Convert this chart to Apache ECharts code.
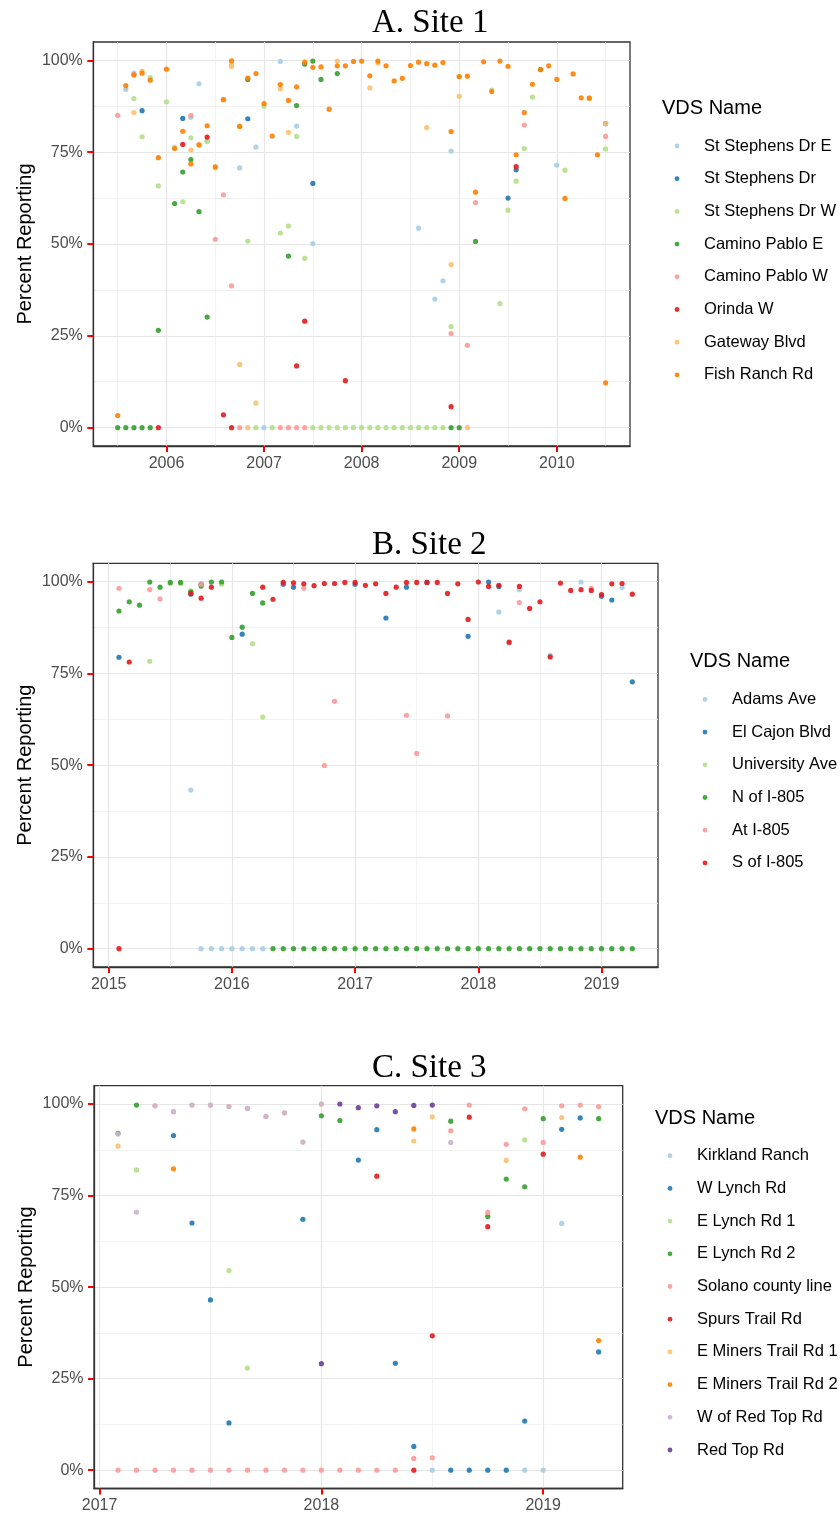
<!DOCTYPE html>
<html><head><meta charset="utf-8">
<script src="https://cdn.jsdelivr.net/npm/echarts@6/dist/echarts.min.js"></script>
<style>html,body{margin:0;padding:0;background:#fff}#c{width:840px;height:1514px}</style>
</head><body><div id="c"></div>
<script>
// ================= DATA =================
// Tick labels
const yTicks = [0, 0.25, 0.5, 0.75, 1];
const yMinor = [0.125, 0.375, 0.625, 0.875];
const xTicksA = [2006, 2007, 2008, 2009, 2010];
const xMinorA = [2005.5, 2006.5, 2007.5, 2008.5, 2009.5, 2010.5];
const xTicksB = [2015, 2016, 2017, 2018, 2019];
const xMinorB = [2015.5, 2016.5, 2017.5, 2018.5];
const xTicksC = [2017, 2018, 2019];
const xMinorC = [2017.5, 2018.5];

// ---- Panel A: Site 1 ----
const namesA = ['St Stephens Dr E', 'St Stephens Dr', 'St Stephens Dr W', 'Camino Pablo E', 'Camino Pablo W', 'Orinda W', 'Gateway Blvd', 'Fish Ranch Rd'];
const a_stStephensDrE = [['2005-08',0.921],['2005-09',0.965],['2006-04',0.845],['2006-05',0.936],['2006-06',0.780],['2006-10',0.707],['2006-12',0.764],['2007-01',0],['2007-03',0.997],['2007-05',0.821],['2007-07',0.501],['2008-08',0.543],['2008-10',0.350],['2008-11',0.400],['2008-12',0.753],['2010-01',0.715]];
const a_stStephensDr = [['2005-10',0.863],['2006-03',0.842],['2006-11',0.841],['2007-07',0.665],['2009-07',0.625],['2009-08',0.702],['2010-07',0.828]];
const a_stStephensDrW = [['2005-09',0.896],['2005-10',0.792],['2005-11',0.953],['2005-12',0.658],['2006-01',0.887],['2006-02',0.763],['2006-03',0.615],['2006-04',0.789],['2006-06',0.780],['2006-07',0.707],['2006-08',0.893],['2006-09',0.989],['2006-10',0.820],['2006-11',0.508],['2006-12',0],['2007-01',0.875],['2007-02',0],['2007-03',0.530],['2007-04',0.549],['2007-05',0.793],['2007-06',0.461],['2007-07',0],['2007-08',0],['2007-09',0],['2007-10',0],['2007-11',0],['2007-12',0],['2008-01',0],['2008-02',0],['2008-03',0],['2008-04',0],['2008-05',0],['2008-06',0],['2008-07',0],['2008-08',0],['2008-09',0],['2008-10',0],['2008-11',0],['2008-12',0.275],['2009-01',0.956],['2009-05',0.919],['2009-06',0.338],['2009-07',0.592],['2009-08',0.671],['2009-09',0.760],['2009-10',0.900],['2010-02',0.701],['2010-05',0.897],['2010-07',0.759]];
const a_caminoPabloE = [['2005-07',0],['2005-08',0],['2005-09',0],['2005-10',0],['2005-11',0],['2005-12',0.265],['2006-02',0.610],['2006-03',0.696],['2006-04',0.730],['2006-05',0.588],['2006-06',0.301],['2006-11',0.948],['2007-04',0.467],['2007-05',0.877],['2007-06',0.990],['2007-07',0.998],['2007-08',0.948],['2007-10',0.964],['2008-12',0],['2009-01',0],['2009-03',0.507],['2009-11',0.975]];
const a_caminoPabloW = [['2005-07',0.850],['2005-09',0.962],['2006-04',0.850],['2006-07',0.513],['2006-08',0.634],['2006-09',0.386],['2006-10',0],['2007-03',0],['2007-04',0],['2007-05',0],['2007-06',0],['2008-12',0.256],['2009-02',0.224],['2009-03',0.613],['2009-09',0.824],['2010-07',0.793]];
const a_orindaW = [['2005-12',0],['2006-03',0.771],['2006-06',0.791],['2006-08',0.035],['2006-09',0],['2007-05',0.168],['2007-06',0.290],['2007-11',0.128],['2008-12',0.057],['2009-08',0.711]];
const a_gatewayBlvd = [['2005-09',0.858],['2005-10',0.970],['2006-04',0.756],['2006-05',0.770],['2006-09',0.983],['2006-10',0.172],['2006-11',0],['2006-12',0.067],['2007-03',0.923],['2007-04',0.804],['2007-10',0.998],['2008-02',0.925],['2008-03',0.993],['2008-09',0.817],['2008-12',0.444],['2009-01',0.902],['2009-02',0],['2010-07',0.828]];
const a_fishRanchRd = [['2005-07',0.033],['2005-08',0.931],['2005-09',0.960],['2005-10',0.965],['2005-11',0.946],['2005-12',0.735],
 ['2006-01',0.976],['2006-02',0.760],['2006-03',0.807],['2006-04',0.718],['2006-05',0.770],['2006-06',0.822],['2006-07',0.710],['2006-08',0.893],['2006-09',0.999],['2006-10',0.820],['2006-11',0.952],['2006-12',0.964],
 ['2007-01',0.882],['2007-02',0.794],['2007-03',0.934],['2007-04',0.891],['2007-05',0.928],['2007-06',0.995],['2007-07',0.981],['2007-08',0.982],['2007-09',0.867],['2007-10',0.985],['2007-11',0.985],['2007-12',0.997],
 ['2008-01',0.998],['2008-02',0.958],['2008-03',0.998],['2008-04',0.985],['2008-05',0.944],['2008-06',0.951],['2008-07',0.986],['2008-08',0.995],['2008-09',0.991],['2008-10',0.987],['2008-11',0.994],['2008-12',0.806],
 ['2009-01',0.956],['2009-02',0.957],['2009-03',0.641],['2009-04',0.996],['2009-05',0.915],['2009-06',0.998],['2009-07',0.984],['2009-08',0.743],['2009-09',0.858],['2009-10',0.935],['2009-11',0.975],['2009-12',0.985],
 ['2010-01',0.948],['2010-02',0.624],['2010-03',0.963],['2010-04',0.898],['2010-05',0.897],['2010-06',0.743],['2010-07',0.122]];

// ---- Panel B: Site 2 ----
const namesB = ['Adams Ave', 'El Cajon Blvd', 'University Ave', 'N of I-805', 'At I-805', 'S of I-805'];
const b_adamsAve = [['2015-09',0.432],['2015-10',0],['2015-11',0],['2015-12',0],['2016-01',0],['2016-02',0],['2016-03',0],['2016-04',0],['2018-03',0.917],['2018-04',0.833],['2018-05',0.978],['2018-08',0.799],['2018-11',0.999],['2019-03',0.984]];
const b_elCajonBlvd = [['2015-02',0.794],['2015-09',0.966],['2015-10',0.993],['2016-02',0.857],['2016-06',0.993],['2016-07',0.985],['2017-01',0.993],['2017-04',0.901],['2017-06',0.985],['2017-08',0.998],['2017-12',0.851],['2018-02',0.999],['2018-03',0.987],['2019-01',0.960],['2019-02',0.950],['2019-04',0.727]];
const b_universityAve = [['2015-05',0.783],['2015-07',0.995],['2015-08',0.995],['2015-09',0.975],['2015-12',0.993],['2016-03',0.831],['2016-04',0.631]];
const b_nOfI805 = [['2015-02',0.920],['2015-03',0.945],['2015-04',0.936],['2015-05',0.999],['2015-06',0.985],['2015-07',0.998],['2015-08',0.998],['2015-09',0.972],['2015-10',0.988],['2015-11',0.999],['2015-12',0.999],['2016-01',0.848],['2016-02',0.876],['2016-03',0.968],['2016-04',0.942],
 ['2016-05',0],['2016-06',0],['2016-07',0],['2016-08',0],['2016-09',0],['2016-10',0],['2016-11',0],['2016-12',0],
 ['2017-01',0],['2017-02',0],['2017-03',0],['2017-04',0],['2017-05',0],['2017-06',0],['2017-07',0],['2017-08',0],['2017-09',0],['2017-10',0],['2017-11',0],['2017-12',0],
 ['2018-01',0],['2018-02',0],['2018-03',0],['2018-04',0],['2018-05',0],['2018-06',0],['2018-07',0],['2018-08',0],['2018-09',0],['2018-10',0],['2018-11',0],['2018-12',0],
 ['2019-01',0],['2019-02',0],['2019-03',0],['2019-04',0]];
const b_atI805 = [['2015-02',0.982],['2015-05',0.978],['2015-06',0.953],['2015-10',0.993],['2016-08',0.982],['2016-10',0.499],['2016-11',0.674],['2017-06',0.636],['2017-07',0.532],['2017-10',0.634],['2018-05',0.943],['2018-12',0.982]];
const b_sOfI805 = [['2015-02',0],['2015-03',0.781],['2015-09',0.968],['2015-10',0.955],['2015-11',0.985],['2016-04',0.985],['2016-05',0.952],['2016-06',0.998],['2016-07',0.997],['2016-08',0.994],['2016-09',0.989],['2016-10',0.995],['2016-11',0.995],['2016-12',0.998],
 ['2017-01',0.998],['2017-02',0.990],['2017-03',0.994],['2017-04',0.968],['2017-05',0.985],['2017-06',0.998],['2017-07',0.998],['2017-08',0.998],['2017-09',0.998],['2017-10',0.968],['2017-11',0.994],['2017-12',0.897],
 ['2018-01',0.999],['2018-02',0.987],['2018-03',0.990],['2018-04',0.835],['2018-05',0.987],['2018-06',0.927],['2018-07',0.945],['2018-08',0.795],['2018-09',0.996],['2018-10',0.976],['2018-11',0.978],['2018-12',0.976],
 ['2019-01',0.965],['2019-02',0.994],['2019-03',0.995],['2019-04',0.966]];

// ---- Panel C: Site 3 ----
const namesC = ['Kirkland Ranch', 'W Lynch Rd', 'E Lynch Rd 1', 'E Lynch Rd 2', 'Solano county line', 'Spurs Trail Rd', 'E Miners Trail Rd 1', 'E Miners Trail Rd 2', 'W of Red Top Rd', 'Red Top Rd'];
const c_kirklandRanch = [['2018-07',0],['2018-12',0],['2019-01',0],['2019-02',0.674]];
const c_wLynchRd = [['2017-05',0.914],['2017-06',0.675],['2017-07',0.465],['2017-08',0.129],['2017-12',0.685],['2018-03',0.847],['2018-04',0.930],['2018-05',0.292],['2018-06',0.065],['2018-08',0],['2018-09',0],['2018-10',0],['2018-11',0],['2018-12',0.134],['2019-02',0.931],['2019-03',0.962],['2019-04',0.323]];
const c_eLynchRd1 = [['2017-03',0.820],['2017-08',0.545],['2017-09',0.279],['2018-12',0.902]];
const c_eLynchRd2 = [['2017-02',0.920],['2017-03',0.997],['2018-01',0.968],['2018-02',0.955],['2018-08',0.953],['2018-10',0.693],['2018-11',0.795],['2018-12',0.774],['2019-01',0.960],['2019-04',0.960]];
const c_solanoCountyLine = [['2017-02',0],['2017-03',0],['2017-04',0],['2017-05',0],['2017-06',0],['2017-07',0],['2017-08',0],['2017-09',0],['2017-10',0],['2017-11',0],['2017-12',0],['2018-01',0],['2018-02',0],['2018-03',0],['2018-04',0],['2018-05',0],
 ['2018-06',0.032],['2018-07',0.034],['2018-08',0.927],['2018-09',0.997],['2018-10',0.704],['2018-11',0.890],['2018-12',0.987],['2019-01',0.895],['2019-02',0.995],['2019-03',0.997],['2019-04',0.993]];
const c_spursTrailRd = [['2018-04',0.803],['2018-06',0],['2018-07',0.367],['2018-09',0.964],['2018-10',0.665],['2019-01',0.863]];
const c_eMinersTrailRd1 = [['2017-02',0.885],['2017-04',0.995],['2017-05',0.979],['2017-06',0.997],['2017-07',0.997],['2017-08',0.993],['2017-09',0.988],['2017-10',0.966],['2017-11',0.976],['2017-12',0.896],['2018-01',1.0],['2018-06',0.899],['2018-07',0.965],['2018-11',0.846],['2019-02',0.963]];
const c_eMinersTrailRd2 = [['2017-05',0.823],['2018-06',0.932],['2019-03',0.855],['2019-04',0.354]];
const c_wOfRedTopRd = [['2017-02',0.918],['2017-03',0.705],['2017-04',0.995],['2017-05',0.979],['2017-06',0.997],['2017-07',0.997],['2017-08',0.993],['2017-09',0.988],['2017-10',0.966],['2017-11',0.976],['2017-12',0.896],['2018-01',1.0],['2018-08',0.895]];
const c_redTopRd = [['2018-01',0.291],['2018-02',1.0],['2018-03',0.990],['2018-04',0.995],['2018-05',0.979],['2018-06',0.996],['2018-07',0.997]];

// ================= CHART =================
const palette = ['#A6CEE3','#1F78B4','#B2DF8A','#33A02C','#FB9A99','#E31A1C','#FDBF6F','#FF7F00','#CAB2D6','#6A3D9A'];
const toX = s => { const p = s.split('-').map(Number); return p[0] + (p[1] - 1) / 12; };

const panels = [
  { title: 'A. Site 1', names: namesA, series: [a_stStephensDrE, a_stStephensDr, a_stStephensDrW, a_caminoPabloE, a_caminoPabloW, a_orindaW, a_gatewayBlvd, a_fishRanchRd],
    xt: xTicksA, xm: xMinorA, grid: { left: 93.3, top: 42, width: 536.7, height: 404 }, titleTop: 7,
    legLeft: 674.6, legTop: 136, legTitleLeft: 662, legTitleTop: 98 },
  { title: 'B. Site 2', names: namesB, series: [b_adamsAve, b_elCajonBlvd, b_universityAve, b_nOfI805, b_atI805, b_sOfI805],
    xt: xTicksB, xm: xMinorB, grid: { left: 93.3, top: 563.3, width: 564.7, height: 403.7 }, titleTop: 529,
    legLeft: 702.6, legTop: 689.4, legTitleLeft: 690, legTitleTop: 651.7 },
  { title: 'C. Site 3', names: namesC, series: [c_kirklandRanch, c_wLynchRd, c_eLynchRd1, c_eLynchRd2, c_solanoCountyLine, c_spursTrailRd, c_eMinersTrailRd1, c_eMinersTrailRd2, c_wOfRedTopRd, c_redTopRd],
    xt: xTicksC, xm: xMinorC, grid: { left: 94, top: 1085.7, width: 528.7, height: 403 }, titleTop: 1051.5,
    legLeft: 667.6, legTop: 1145.7, legTitleLeft: 655, legTitleTop: 1108 }
];

const FONT = 'Liberation Sans, Arial, sans-serif';
const option = { animation: false, backgroundColor: '#fff', textStyle: { fontFamily: FONT },
  grid: [], xAxis: [], yAxis: [], series: [], legend: [], title: [] };

panels.forEach((p, gi) => {
  let lo = Infinity, hi = -Infinity;
  p.series.forEach(s => s.forEach(d => { const x = toX(d[0]); lo = Math.min(lo, x); hi = Math.max(hi, x); }));
  const pad = (hi - lo) * 0.05;
  const xMin = lo - pad, xMax = hi + pad;

  option.grid.push(Object.assign({ show: true, borderColor: '#333333', borderWidth: 1.3 }, p.grid));

  option.xAxis.push({ type: 'value', gridIndex: gi, min: xMin, max: xMax, position: 'bottom',
    axisLine: { show: true, onZero: false, lineStyle: { color: '#333333', width: 1.3 } },
    axisTick: { show: true, length: 6, customValues: p.xt, lineStyle: { color: 'red', width: 2 } },
    axisLabel: { show: true, customValues: p.xt, margin: 9.5, fontSize: 16, color: '#4D4D4D', formatter: v => String(Math.round(v)) },
    splitLine: { show: true, lineStyle: { color: '#E6E6E6', width: 1.2 } } });
  option.xAxis.push({ type: 'value', gridIndex: gi, min: xMin, max: xMax, position: 'top',
    axisLine: { show: false, onZero: false }, axisTick: { show: false, customValues: p.xm }, axisLabel: { show: false, customValues: p.xm },
    splitLine: { show: true, lineStyle: { color: '#ECECEC', width: 0.7 } } });

  option.yAxis.push({ type: 'value', gridIndex: gi, min: -0.05, max: 1.05, position: 'left',
    name: 'Percent Reporting', nameLocation: 'middle', nameGap: 58, nameMoveOverlap: false,
    nameTextStyle: { fontSize: 20, color: '#000', fontFamily: FONT },
    axisLine: { show: true, onZero: false, lineStyle: { color: '#333333', width: 1.3 } },
    axisTick: { show: true, length: 6, customValues: yTicks, lineStyle: { color: 'red', width: 2 } },
    axisLabel: { show: true, customValues: yTicks, margin: 10.5, fontSize: 16, color: '#4D4D4D', formatter: v => Math.round(v * 100) + '%' },
    splitLine: { show: true, lineStyle: { color: '#E6E6E6', width: 1.2 } } });
  option.yAxis.push({ type: 'value', gridIndex: gi, min: -0.05, max: 1.05, position: 'right',
    axisLine: { show: false, onZero: false }, axisTick: { show: false, customValues: yMinor }, axisLabel: { show: false, customValues: yMinor },
    splitLine: { show: true, lineStyle: { color: '#ECECEC', width: 0.7 } } });

  p.series.forEach((s, si) => {
    option.series.push({ type: 'scatter', name: p.names[si], xAxisIndex: gi * 2, yAxisIndex: gi * 2,
      symbol: 'circle', symbolSize: 5.2,
      itemStyle: { color: palette[si], opacity: 0.9 },
      emphasis: { disabled: true },
      data: s.map(d => [toX(d[0]), d[1]]) });
  });

  option.legend.push({ orient: 'vertical', left: p.legLeft, top: p.legTop, padding: 0,
    data: p.names.map(n => ({ name: n, icon: 'circle' })),
    itemWidth: 44, itemHeight: 4.8, itemGap: 12.7, selectedMode: false,
    textStyle: { fontSize: 16.5, lineHeight: 20, color: '#000', fontFamily: FONT } });

  option.title.push({ text: p.title, left: 372, top: p.titleTop, padding: 0,
    textStyle: { fontFamily: 'Liberation Serif, Times New Roman, serif', fontSize: 33, fontWeight: 'normal', color: '#000' } });
  option.title.push({ text: 'VDS Name', left: p.legTitleLeft, top: p.legTitleTop, padding: 0,
    textStyle: { fontFamily: FONT, fontSize: 20, fontWeight: 'normal', color: '#000' } });
});

const chart = echarts.init(document.getElementById('c'), null, { renderer: 'canvas' });
chart.setOption(option);
</script></body></html>
